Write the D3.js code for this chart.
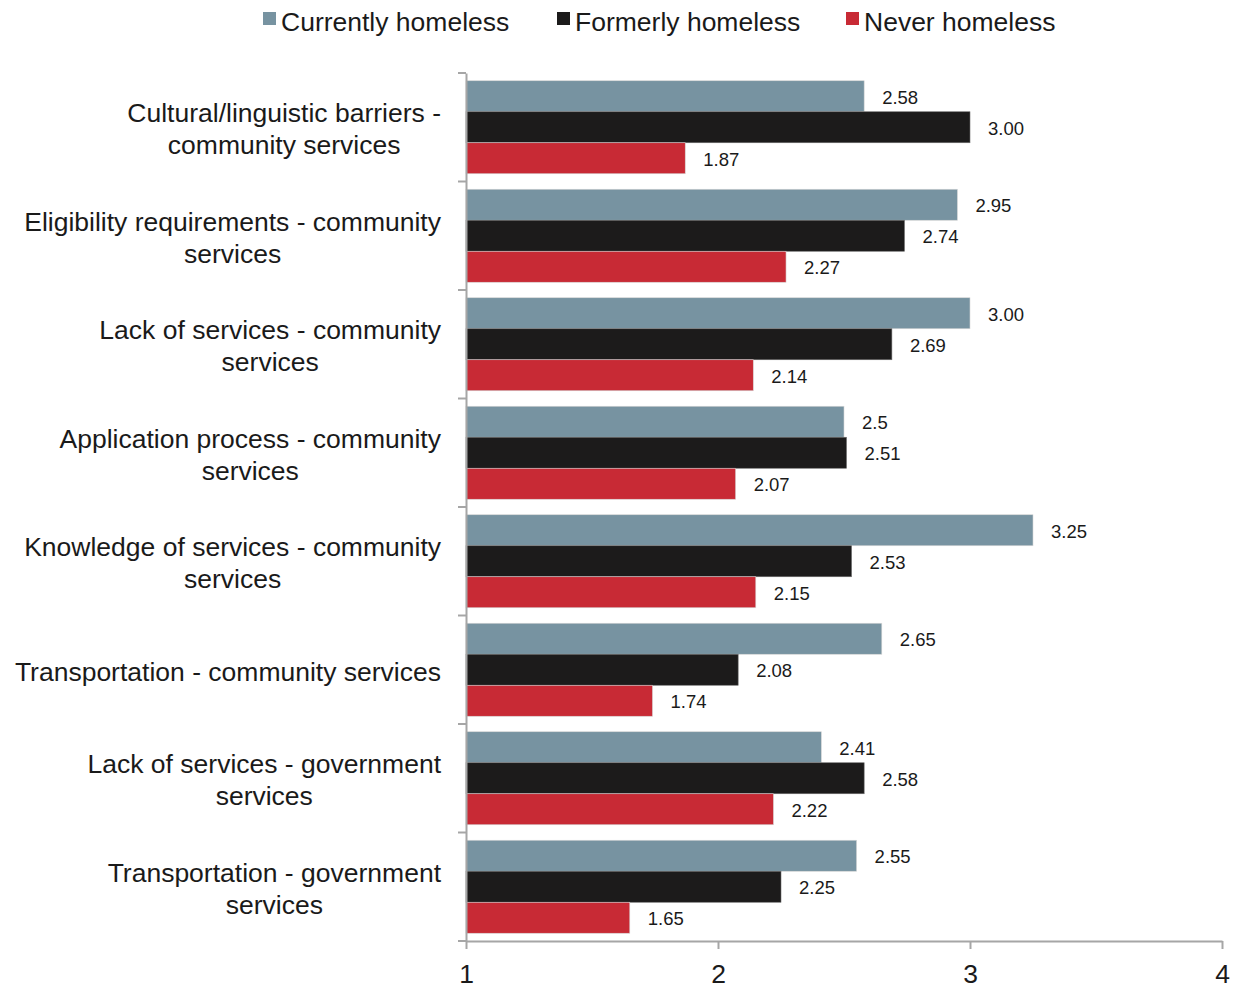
<!DOCTYPE html>
<html>
<head>
<meta charset="utf-8">
<script src="https://cdn.jsdelivr.net/npm/d3@7"></script>
<style>
  html, body { margin: 0; padding: 0; background: #fff; }
  svg { display: block; font-family: "Liberation Sans", Arial, sans-serif; }
</style>
</head>
<body>
<svg id="chart" width="1238" height="988"></svg>
<script>
const categories = [
  ["Cultural/linguistic barriers -", "community services"],
  ["Eligibility requirements - community", "services"],
  ["Lack of services - community", "services"],
  ["Application process - community", "services"],
  ["Knowledge of services - community", "services"],
  ["Transportation - community services"],
  ["Lack of services - government", "services"],
  ["Transportation - government", "services"]
];
const seriesNames = ["Currently homeless", "Formerly homeless", "Never homeless"];
const currentlyHomeless = [2.58, 2.95, 3.00, 2.5, 3.25, 2.65, 2.41, 2.55];
const formerlyHomeless  = [3.00, 2.74, 2.69, 2.51, 2.53, 2.08, 2.58, 2.25];
const neverHomeless     = [1.87, 2.27, 2.14, 2.07, 2.15, 1.74, 2.22, 1.65];
const valueLabels = [
  ["2.58", "2.95", "3.00", "2.5", "3.25", "2.65", "2.41", "2.55"],
  ["3.00", "2.74", "2.69", "2.51", "2.53", "2.08", "2.58", "2.25"],
  ["1.87", "2.27", "2.14", "2.07", "2.15", "1.74", "2.22", "1.65"]
];
const xTicks = [1, 2, 3, 4];
const colors = ["#7793a1", "#1c1b1b", "#c82a35"];

const series = [currentlyHomeless, formerlyHomeless, neverHomeless];
const svg = d3.select("#chart");

const x = d3.scaleLinear().domain([1, 4]).range([466, 1222]);
const y = d3.scaleBand().domain(d3.range(categories.length)).range([73, 941]).paddingInner(0).paddingOuter(0);
const inner = d3.scaleBand().domain(d3.range(series.length)).range([0, y.bandwidth()]).paddingInner(0).paddingOuter(0.25);

// Bars and value labels
const groups = svg.append("g").selectAll("g")
  .data(categories.map((c, i) => i))
  .join("g")
  .attr("transform", i => `translate(0,${y(i)})`);

series.forEach((vals, s) => {
  groups.append("rect")
    .attr("x", x(1))
    .attr("y", inner(s))
    .attr("width", i => x(vals[i]) - x(1))
    .attr("height", inner.bandwidth())
    .attr("fill", colors[s])
    .attr("stroke", s === 1 ? "#6e6e6e" : "#d6d6d6")
    .attr("stroke-width", 0.6);
  groups.append("text")
    .attr("x", i => x(vals[i]) + 18)
    .attr("y", inner(s) + inner.bandwidth() / 2 + 1)
    .attr("dominant-baseline", "central")
    .attr("font-size", 18.5)
    .attr("fill", "#1a1a1a")
    .text(i => valueLabels[s][i]);
});

// Axes
const axisColor = "#a6a6a6";
const yAxis = svg.append("g").attr("transform", `translate(${x(1)},0)`)
  .call(d3.axisLeft(y).tickSizeInner(8).tickSizeOuter(0).tickFormat(""));
// ticks sit on the band boundaries rather than the band centres
yAxis.selectAll(".tick").remove();
yAxis.selectAll(".bound")
  .data(d3.range(categories.length + 1))
  .join("line")
  .attr("x1", -8).attr("x2", 0)
  .attr("y1", i => 73 + i * y.step()).attr("y2", i => 73 + i * y.step())
  .attr("stroke", axisColor).attr("stroke-width", 2);
yAxis.select(".domain").attr("stroke", axisColor).attr("stroke-width", 2);

const xAxis = svg.append("g").attr("transform", `translate(0,941)`)
  .call(d3.axisBottom(x).tickValues(xTicks).tickSizeInner(8).tickSizeOuter(0).tickPadding(15).tickFormat(d3.format("d")));
xAxis.select(".domain").attr("stroke", axisColor).attr("stroke-width", 2);
xAxis.selectAll(".tick line").attr("stroke", axisColor).attr("stroke-width", 2);
xAxis.selectAll(".tick text").attr("font-size", 26.5).attr("fill", "#1a1a1a")
  .attr("font-family", "Liberation Sans, Arial, sans-serif");

// Category labels: block right-aligned, lines centred within block
const labelRight = 441;
const catLabels = svg.append("g");
categories.forEach((lines, i) => {
  const t = catLabels.append("text")
    .attr("font-size", 26.5)
    .attr("fill", "#1a1a1a")
    .attr("text-anchor", "middle");
  const cy = y(i) + y.bandwidth() / 2 + 2;
  lines.forEach((ln, k) => {
    t.append("tspan")
      .attr("y", cy + (k - (lines.length - 1) / 2) * 32)
      .attr("dominant-baseline", "central")
      .text(ln);
  });
  let maxW = 0;
  t.selectAll("tspan").each(function () { maxW = Math.max(maxW, this.getComputedTextLength()); });
  t.selectAll("tspan").attr("x", labelRight - maxW / 2);
});

// Legend
const legendX = [263, 557, 846];
const legend = svg.append("g");
seriesNames.forEach((name, s) => {
  legend.append("rect")
    .attr("x", legendX[s]).attr("y", 12)
    .attr("width", 13).attr("height", 13)
    .attr("fill", colors[s]);
  legend.append("text")
    .attr("x", legendX[s] + 18).attr("y", 22)
    .attr("dominant-baseline", "central")
    .attr("font-size", 26.5)
    .attr("fill", "#1a1a1a")
    .text(name);
});
</script>
</body>
</html>
